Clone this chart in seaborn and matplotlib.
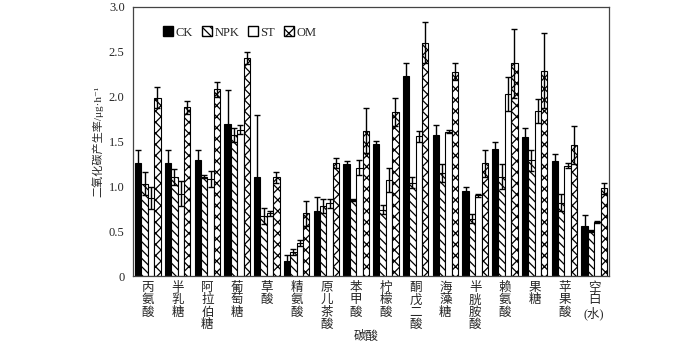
import numpy as np
import pandas as pd
import matplotlib
matplotlib.use("Agg")
import matplotlib.pyplot as plt
from matplotlib.patches import Patch
import seaborn as sns

categories = ["丙\n氨\n酸", "半\n乳\n糖", "阿\n拉\n伯\n糖", "葡\n萄\n糖", "草\n酸", "精\n氨\n酸",
              "原\n儿\n茶\n酸", "苯\n甲\n酸", "柠\n檬\n酸", "酮\n戊\n二\n酸", "海\n藻\n糖",
              "半\n胱\n胺\n酸", "赖\n氨\n酸", "果\n糖", "苹\n果\n酸", "空\n白\n(水)"]
treatments = ["CK", "NPK", "ST", "OM"]

ck = [1.26, 1.26, 1.29, 1.69, 1.10, 0.17, 0.73, 1.25, 1.47, 2.23, 1.57, 0.95, 1.42, 1.55, 1.28, 0.56]
ck_err = [0.15, 0.14, 0.12, 0.38, 0.70, 0.07, 0.15, 0.03, 0.04, 0.14, 0.11, 0.04, 0.08, 0.10, 0.08, 0.12]
npk = [1.03, 1.10, 1.11, 1.57, 0.67, 0.27, 0.78, 0.85, 0.74, 1.04, 1.15, 0.64, 1.11, 1.29, 0.82, 0.50]
npk_err = [0.13, 0.09, 0.02, 0.08, 0.09, 0.03, 0.08, 0.01, 0.05, 0.06, 0.10, 0.05, 0.14, 0.12, 0.09, 0.01]
st = [0.87, 0.92, 1.08, 1.63, 0.70, 0.37, 0.81, 1.21, 1.07, 1.56, 1.61, 0.90, 2.03, 1.84, 1.23, 0.60]
st_err = [0.12, 0.14, 0.09, 0.05, 0.03, 0.03, 0.05, 0.08, 0.13, 0.06, 0.02, 0.02, 0.19, 0.13, 0.03, 0.01]
om = [1.99, 1.88, 2.08, 2.43, 1.10, 0.70, 1.26, 1.62, 1.83, 2.60, 2.28, 1.26, 2.37, 2.29, 1.46, 0.98]
om_err = [0.12, 0.07, 0.08, 0.07, 0.06, 0.14, 0.06, 0.25, 0.16, 0.23, 0.09, 0.15, 0.38, 0.42, 0.21, 0.06]

values = {"CK": ck, "NPK": npk, "ST": st, "OM": om}
errors = {"CK": ck_err, "NPK": npk_err, "ST": st_err, "OM": om_err}

rows = []
for t in treatments:
    for c, v, e in zip(categories, values[t], errors[t]):
        rows.append({"cat": c, "treat": t, "val": v, "err": e})
df = pd.DataFrame(rows)

sns.set_style("ticks")
plt.rcParams["font.family"] = ["Liberation Serif", "Noto Sans CJK SC", "DejaVu Sans"]
plt.rcParams["hatch.linewidth"] = 0.9

fig = plt.figure(figsize=(7.0, 3.46), dpi=100)
ax = fig.add_axes([0.19, 0.202, 0.68, 0.778])

sns.barplot(data=df, x="cat", y="val", hue="treat", order=categories, hue_order=treatments,
            width=0.86, errorbar=None, ax=ax, legend=False,
            palette={"CK": "black", "NPK": "white", "ST": "white", "OM": "white"},
            edgecolor="black", linewidth=0.8, saturation=1)

hatches = {"CK": None, "NPK": "\\\\\\\\", "ST": None, "OM": "xxx"}
for t, cont in zip(treatments, ax.containers):
    xs = []
    for p in cont.patches:
        if hatches[t]:
            p.set_hatch(hatches[t])
        xs.append(p.get_x() + p.get_width() / 2)
    ax.errorbar(xs, values[t], yerr=errors[t], fmt="none", ecolor="black",
                elinewidth=1.0, capsize=2.5, capthick=1.0, zorder=5)

ax.set_ylim(0, 3.0)
ax.set_xlim(-0.5, len(categories) - 0.5)
ax.set_yticks(np.arange(0, 3.01, 0.5))
ax.set_yticklabels(["0", "0.5", "1.0", "1.5", "2.0", "2.5", "3.0"], fontsize=9)
ax.tick_params(axis="x", length=0, labelsize=9, pad=4)
ax.tick_params(axis="y", length=0, pad=6)
for lab in ax.get_xticklabels():
    lab.set_linespacing(1.05)
    lab.set_verticalalignment("top")
for s in ax.spines.values():
    s.set_visible(True)
    s.set_color("#444444")
    s.set_linewidth(0.9)

ax.set_xlabel("碳酸", fontsize=9)
ax.xaxis.set_label_coords(0.49, -0.205)
ax.set_ylabel("二氧化碳产生率/μg·h⁻¹", fontsize=8, labelpad=4)

handles = [Patch(facecolor="black", edgecolor="black", label="CK"),
           Patch(facecolor="white", edgecolor="black", hatch="\\\\\\\\", label="NPK"),
           Patch(facecolor="white", edgecolor="black", label="ST"),
           Patch(facecolor="white", edgecolor="black", hatch="xxx", label="OM")]
ax.legend(handles=handles, ncol=4, frameon=False, loc="upper left", bbox_to_anchor=(0.045, 0.96),
          fontsize=9, handlelength=0.8, handleheight=0.8, handletextpad=0.2, columnspacing=0.7,
          borderpad=0.2)

fig.savefig("out.png", dpi=100)
